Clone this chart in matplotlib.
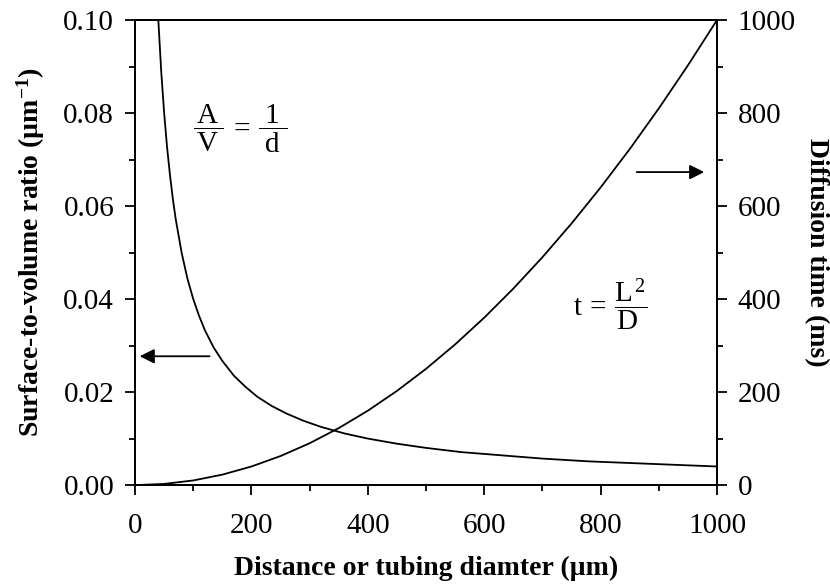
import matplotlib
matplotlib.use("Agg")
import matplotlib.pyplot as plt
from matplotlib.ticker import MultipleLocator, FormatStrFormatter

# surface-to-volume ratio vs. tubing diameter
d_um = [40, 45, 50, 55, 60, 65, 70, 80, 90, 100, 110, 120, 135, 150, 170, 190, 210,
        235, 260, 290, 320, 360, 400, 450, 500, 560, 620, 700, 780, 860, 940, 1000]
sv_ratio = [0.1000, 0.0889, 0.0800, 0.0727, 0.0667, 0.0615, 0.0571, 0.0500, 0.0444,
            0.0400, 0.0364, 0.0333, 0.0296, 0.0267, 0.0235, 0.0211, 0.0190, 0.0170,
            0.0154, 0.0138, 0.0125, 0.0111, 0.0100, 0.0089, 0.0080, 0.0071, 0.0065,
            0.0057, 0.0051, 0.0047, 0.0043, 0.0040]

# diffusion time vs. distance
dist_um = [0, 50, 100, 150, 200, 250, 300, 350, 400, 450, 500, 550, 600, 650, 700,
           750, 800, 850, 900, 950, 1000]
t_ms = [0, 2.5, 10, 22.5, 40, 62.5, 90, 122.5, 160, 202.5, 250, 302.5, 360, 422.5,
        490, 562.5, 640, 722.5, 810, 902.5, 1000]

x_ticks = [0, 200, 400, 600, 800, 1000]
left_ticks = [0.00, 0.02, 0.04, 0.06, 0.08, 0.10]
right_ticks = [0, 200, 400, 600, 800, 1000]

plt.rcParams['font.family'] = ['Liberation Serif', 'DejaVu Serif']
plt.rcParams['mathtext.fontset'] = 'custom'
plt.rcParams['mathtext.rm'] = 'Liberation Serif'
plt.rcParams['mathtext.it'] = 'Liberation Serif'
plt.rcParams['mathtext.bf'] = 'Liberation Serif:bold'

fig = plt.figure(figsize=(8.3, 5.88), dpi=100)
ax = fig.add_axes([0.1627, 0.175, 0.7012, 0.791])
ax2 = ax.twinx()

ax.plot(d_um, sv_ratio, color="black", lw=1.3)
ax2.plot(dist_um, t_ms, color="black", lw=1.3)

ax.set_xlim(0, 1000)
ax.set_ylim(0, 0.10)
ax2.set_ylim(0, 1000)

ax.set_xticks(x_ticks)
ax.set_yticks(left_ticks)
ax2.set_yticks(right_ticks)
ax.xaxis.set_minor_locator(MultipleLocator(100))
ax.yaxis.set_minor_locator(MultipleLocator(0.01))
ax2.yaxis.set_minor_locator(MultipleLocator(100))
ax.yaxis.set_major_formatter(FormatStrFormatter('%.2f'))

for a in (ax, ax2):
    for s in a.spines.values():
        s.set_linewidth(1.3)
    a.tick_params(which='major', direction='out', length=7, width=1.3, labelsize=21)
    a.tick_params(which='minor', direction='out', length=4, width=1.3)
ax.tick_params(axis='x', which='both', top=False, pad=13)
ax.tick_params(axis='y', pad=8)
ax2.tick_params(axis='y', pad=8)

ax.set_xlabel("Distance or tubing diamter (µm)", fontsize=20, fontweight='bold', labelpad=12)
ax.set_ylabel("Surface-to-volume ratio (µm$^{\\mathbf{-1}}$)", fontsize=20,
              fontweight='bold', labelpad=12)
ax2.set_ylabel("Diffusion time (ms)", fontsize=20, fontweight='bold',
               rotation=270, va='bottom', labelpad=6)

# equations
ax.text(180, 0.0766,
        r"$\dfrac{\,\mathrm{A}\,}{\,\mathrm{V}\,}\,=\,\dfrac{\;\mathrm{1}\;}{\;\mathrm{d}\;}$",
        fontsize=21, ha='center', va='center')
ax.text(816, 0.0388, r"$\mathrm{t}\,=\,\dfrac{\mathrm{L}^{\,2}}{\mathrm{D}\;}$",
        fontsize=21, ha='center', va='center')

# arrows pointing to the matching axis
ax.annotate("", xy=(8, 0.0277), xytext=(128, 0.0277),
            arrowprops=dict(arrowstyle='-|>', color='black', lw=1.3,
                            mutation_scale=22, shrinkA=0, shrinkB=0))
ax2.annotate("", xy=(978, 673), xytext=(862, 673),
             arrowprops=dict(arrowstyle='-|>', color='black', lw=1.3,
                             mutation_scale=22, shrinkA=0, shrinkB=0))

fig.savefig("out.png", dpi=100)
